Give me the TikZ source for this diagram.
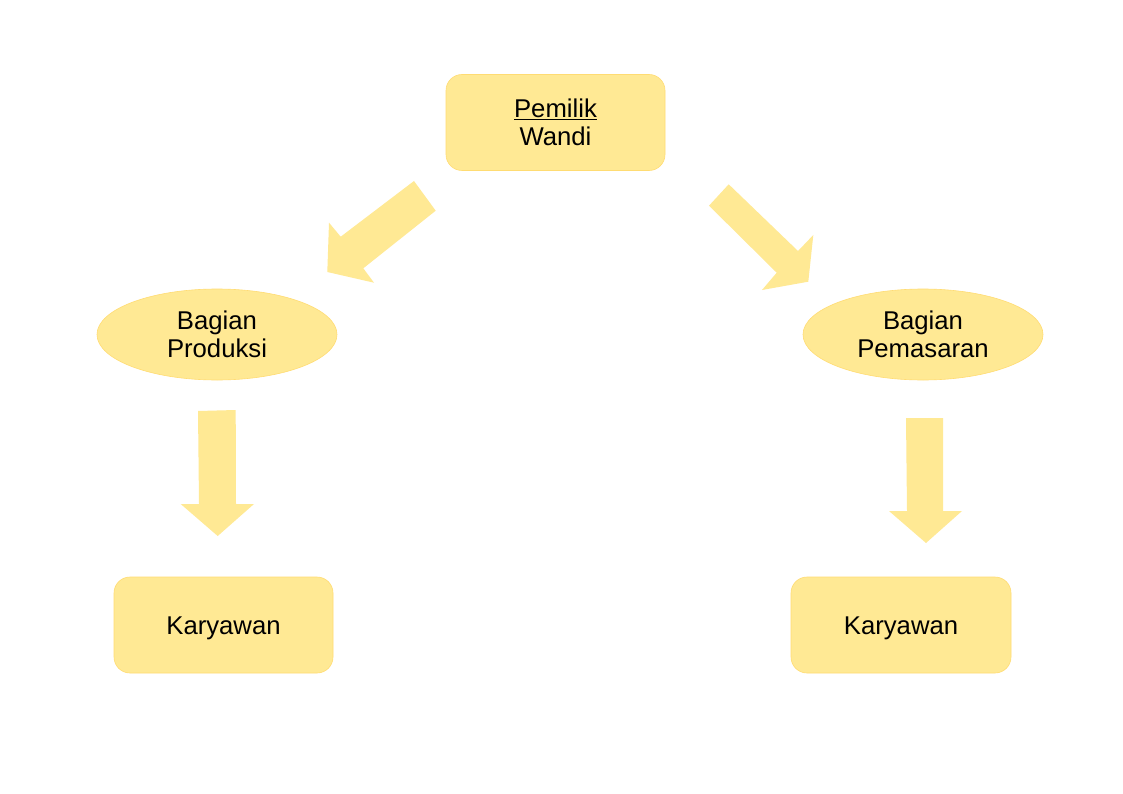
\documentclass[tikz,border=0pt]{standalone}
\usepackage{fontspec}
\setmainfont{Liberation Sans}
\usetikzlibrary{shapes.geometric}
\definecolor{boxfill}{HTML}{FFE994}
\definecolor{boxline}{HTML}{FFDC73}
\tikzset{
  lbl/.style={font=\fontsize{25.7}{28.5}\selectfont, align=center, text=black},
  rbox/.style={lbl, rectangle, rounded corners=16pt, fill=boxfill, draw=boxline, line width=0.6pt, minimum width=219pt, minimum height=96pt, inner sep=0pt},
  ell/.style={lbl, ellipse, fill=boxfill, draw=boxline, line width=0.6pt, minimum width=240pt, minimum height=91pt, inner sep=0pt},
  blockarrow/.style={fill=boxfill, draw=none}
}
\begin{document}
\begin{tikzpicture}[x=1pt,y=-1pt]
\useasboundingbox (0,0) rectangle (1123,794);
\fill[white] (0,0) rectangle (1123,794);
% nodes
\node[rbox] (owner) at (555.5,122.5) {\underline{Pemilik}\\Wandi};
\node[ell] (prod) at (217,334.5) {Bagian\\Produksi};
\node[ell] (mark) at (923,334.5) {Bagian\\Pemasaran};
\node[rbox, text height=20pt, text depth=2pt] (kar1) at (223.5,625) {Karyawan};
\node[rbox, minimum width=220pt, text height=20pt, text depth=2pt] (kar2) at (901,625) {Karyawan};
% block arrows
\fill[blockarrow] (414,181) -- (435.7,210.7) -- (363.3,268.3) -- (374,282.7) -- (327.3,272) -- (329,222.7) -- (340.7,236.7) -- cycle;
\fill[blockarrow] (728.7,184.3) -- (798,251) -- (813.3,235) -- (808.3,281.7) -- (762,290) -- (776.7,272.7) -- (709,205.7) -- cycle;
\fill[blockarrow] (198,411) -- (235.7,410) -- (236,504) -- (254,504) -- (217.7,536) -- (180.7,504) -- (199,504) -- cycle;
\fill[blockarrow] (906,418) -- (943,418) -- (943,511) -- (962,511) -- (926,543) -- (889,511) -- (907,511) -- cycle;
\end{tikzpicture}
\end{document}
